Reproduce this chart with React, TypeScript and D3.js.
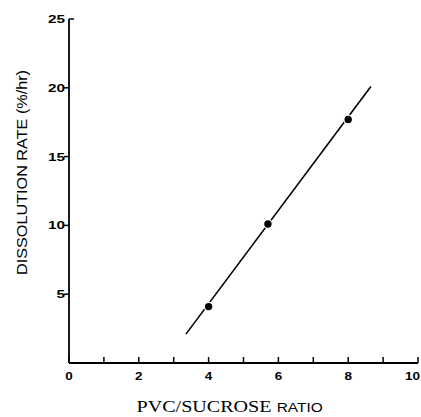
import React from 'react';
import * as d3 from 'd3';

// measured points
const ratio = [4.0, 5.7, 8.0];
const rate = [4.1, 10.1, 17.7];
// fitted line ends
const fitX = [3.35, 8.65];
const fitY = [2.1, 20.1];

const xTicks = [0, 1, 2, 3, 4, 5, 6, 7, 8, 9, 10];
const xLabels = [0, 2, 4, 6, 8, 10];
const yTicks = [5, 10, 15, 20];
const yLabels = [5, 10, 15, 20, 25];

const W = 421;
const H = 417;

export default function App() {
  const x = d3.scaleLinear().domain([0, 10]).range([69, 418]);
  const y = d3.scaleLinear().domain([0, 25]).range([363, 19]);

  const line = d3.line<number>()
    .x(d => x(d))
    .y((_, i) => y(fitY[i]));

  const sans = 'Arial, "Liberation Sans", sans-serif';

  return (
    <div style={{ position: 'absolute', left: 0, top: 0 }}>
      <svg width={W} height={H} style={{ background: '#fff', display: 'block' }}>
        {/* axes */}
        <line x1={x(0)} x2={x(0)} y1={y(25)} y2={y(0)} stroke="#000" strokeWidth={1.8} />
        <line x1={x(0)} x2={x(10)} y1={y(0)} y2={y(0)} stroke="#000" strokeWidth={1.8} />
        {xTicks.map(t => (
          <line key={'xt' + t} x1={x(t)} x2={x(t)} y1={y(0)} y2={y(0) - 6} stroke="#000" strokeWidth={1.5} />
        ))}
        {yTicks.map(t => (
          <line key={'yt' + t} x1={x(0) - 5} x2={x(0)} y1={y(t)} y2={y(t)} stroke="#000" strokeWidth={1.5} />
        ))}
        <line x1={x(0)} x2={x(0) + 5} y1={y(25)} y2={y(25)} stroke="#000" strokeWidth={1.5} />

        {xLabels.map(t => {
          const s = String(t);
          const last = t === 10;
          return (
            <text key={'xl' + t} x={last ? W - 1 : x(t)} y={379.5} textAnchor={last ? 'end' : 'middle'}
              fontFamily={sans} fontSize={11} fontWeight="bold"
              textLength={7.5 * s.length} lengthAdjust="spacingAndGlyphs">{s}</text>
          );
        })}
        {yLabels.map(t => {
          const s = String(t);
          return (
            <text key={'yl' + t} x={x(0) - 4} y={y(t) + 4} textAnchor="end"
              fontFamily={sans} fontSize={11} fontWeight="bold"
              textLength={8.5 * s.length} lengthAdjust="spacingAndGlyphs">{s}</text>
          );
        })}

        {/* fit line */}
        <path d={line(fitX) || ''} fill="none" stroke="#000" strokeWidth={1.6} />
        {ratio.map((r, i) => (
          <circle key={'p' + i} cx={x(r)} cy={y(rate[i])} r={4.3} fill="#000" stroke="#fff" strokeWidth={1.2} />
        ))}

        {/* titles */}
        <text transform="translate(27,172.5) rotate(-90)" textAnchor="middle"
          fontFamily={sans} fontSize={14} textLength={205} lengthAdjust="spacingAndGlyphs">
          DISSOLUTION RATE (%/hr)
        </text>
        <text x={136.5} y={412.3} fontFamily='"Liberation Serif", "Times New Roman", serif' fontSize={16}
          textLength={135} lengthAdjust="spacingAndGlyphs">PVC/SUCROSE</text>
        <text x={276.7} y={412.3} fontFamily={sans} fontSize={12.5}
          textLength={46} lengthAdjust="spacingAndGlyphs">RATIO</text>
      </svg>
    </div>
  );
}
